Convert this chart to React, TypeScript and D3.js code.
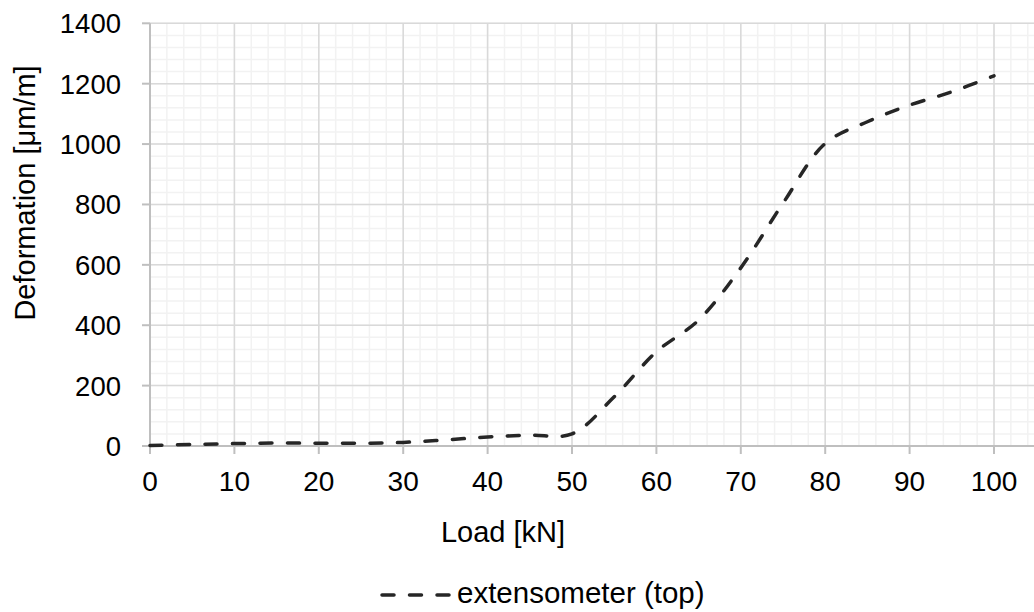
import React from "react";
import * as d3 from "d3";

const loads = [0, 5, 10, 15, 20, 25, 30, 35, 40, 45, 50, 55, 60, 65, 70, 75, 80, 85, 90, 95, 100];
const deformation = [2, 5, 8, 10, 9, 9, 12, 20, 30, 36, 40, 163, 312, 417, 590, 804, 1002, 1074, 1129, 1173, 1226];
const xTicks = [0, 10, 20, 30, 40, 50, 60, 70, 80, 90, 100];
const yTicks = [0, 200, 400, 600, 800, 1000, 1200, 1400];
const xTitle = "Load [kN]";
const yTitle = "Deformation [\u03bcm/m]";
const seriesName = "extensometer (top)";

const W = 1034;
const H = 612;
const FONT = "'Liberation Sans', Arial, sans-serif";

export default function App() {
  const x = d3.scaleLinear().domain([0, 110]).range([150, 150 + 110 * 8.44]);
  const y = d3.scaleLinear().domain([0, 1400]).range([446, 23.3]);
  const xMinor = d3.range(0, 111, 2);
  const yMinor = d3.range(0, 1401, 40);
  const pts: [number, number][] = loads.map((l, i) => [l, deformation[i]]);
  const line = d3
    .line<[number, number]>()
    .x((d) => x(d[0]))
    .y((d) => y(d[1]))
    .curve(d3.curveCatmullRom.alpha(0.5));
  const x0 = x(0);
  const y0 = y(0);
  const yTop = y(1400);
  const xEnd = W;
  return (
    <svg
      width={W}
      height={H}
      style={{ position: "absolute", left: 0, top: 0, background: "#fff" }}
      fontFamily={FONT}
    >
      <rect x={0} y={0} width={W} height={H} fill="#fff" />
      {/* minor grid */}
      {xMinor.map((v) => (
        <line key={"xm" + v} x1={x(v)} x2={x(v)} y1={yTop} y2={y0} stroke="#f2f2f2" strokeWidth={1.5} />
      ))}
      {yMinor.map((v) => (
        <line key={"ym" + v} x1={x0} x2={xEnd} y1={y(v)} y2={y(v)} stroke="#f2f2f2" strokeWidth={1.5} />
      ))}
      {/* major grid */}
      {d3.range(0, 111, 10).map((v) => (
        <line key={"xM" + v} x1={x(v)} x2={x(v)} y1={yTop} y2={y0} stroke="#d9d9d9" strokeWidth={1.5} />
      ))}
      {yTicks.map((v) => (
        <line key={"yM" + v} x1={x0} x2={xEnd} y1={y(v)} y2={y(v)} stroke="#d9d9d9" strokeWidth={1.5} />
      ))}
      {/* axes */}
      <line x1={x0} x2={x0} y1={yTop} y2={y0} stroke="#bfbfbf" strokeWidth={2} />
      <line x1={x0} x2={xEnd} y1={y0} y2={y0} stroke="#bfbfbf" strokeWidth={2} />
      {yTicks.map((v) => (
        <line key={"yt" + v} x1={x0 - 8} x2={x0} y1={y(v)} y2={y(v)} stroke="#bfbfbf" strokeWidth={2} />
      ))}
      {xTicks.map((v) => (
        <line key={"xt" + v} x1={x(v)} x2={x(v)} y1={y0} y2={y0 + 8} stroke="#bfbfbf" strokeWidth={2} />
      ))}
      {/* tick labels */}
      {yTicks.map((v) => (
        <text key={"yl" + v} x={121} y={y(v)} dy="0.36em" textAnchor="end" fontSize={27.5} fill="#000">
          {v}
        </text>
      ))}
      {xTicks.map((v) => (
        <text key={"xl" + v} x={x(v)} y={491} textAnchor="middle" fontSize={28} fill="#000">
          {v}
        </text>
      ))}
      {/* titles */}
      <text x={503} y={542} textAnchor="middle" fontSize={29} fill="#000">
        {xTitle}
      </text>
      <text transform="translate(35,193) rotate(-90)" textAnchor="middle" fontSize={29} fill="#000">
        {yTitle}
      </text>
      {/* series */}
      <path
        d={line(pts) || ""}
        fill="none"
        stroke="#262626"
        strokeWidth={3.5}
        strokeLinecap="round"
        strokeDasharray="12 15.5"
      />
      {/* legend */}
      <line x1={382} x2={452} y1={595} y2={595} stroke="#262626" strokeWidth={3.5} strokeLinecap="round" strokeDasharray="12 15.5" />
      <text x={457} y={603} fontSize={29.5} fill="#000">
        {seriesName}
      </text>
    </svg>
  );
}
